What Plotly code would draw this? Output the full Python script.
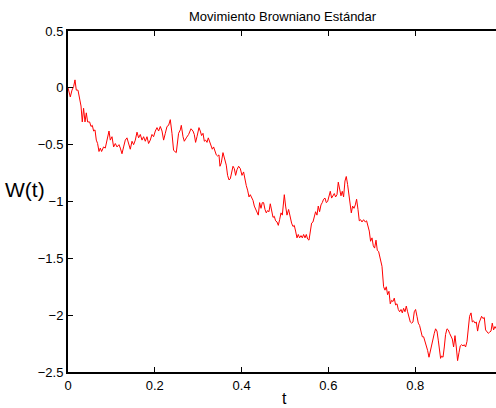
import plotly.graph_objects as go

# time samples and Brownian path values
t = [0.0000, 0.0053, 0.0092, 0.0129, 0.0161, 0.0191, 0.0230, 0.0267, 0.0300, 0.0329,
     0.0359, 0.0392, 0.0422, 0.0452, 0.0498, 0.0530, 0.0560, 0.0590, 0.0622, 0.0652,
     0.0682, 0.0714, 0.0744, 0.0774, 0.0820, 0.0859, 0.0899, 0.0945, 0.0975, 0.1014,
     0.1051, 0.1090, 0.1129, 0.1175, 0.1205, 0.1244, 0.1281, 0.1320, 0.1359, 0.1396,
     0.1435, 0.1475, 0.1512, 0.1551, 0.1590, 0.1627, 0.1666, 0.1705, 0.1742, 0.1781,
     0.1820, 0.1857, 0.1896, 0.1935, 0.1972, 0.2012, 0.2051, 0.2088, 0.2127, 0.2166,
     0.2203, 0.2242, 0.2281, 0.2318, 0.2357,
     0.2396, 0.2433, 0.2495, 0.2548, 0.2588, 0.2611, 0.2650, 0.2680, 0.2726, 0.2779,
     0.2834, 0.2880, 0.2910, 0.2940, 0.2972, 0.3018, 0.3048, 0.3078, 0.3111, 0.3141,
     0.3171, 0.3203, 0.3233, 0.3263, 0.3295, 0.3325, 0.3355, 0.3387, 0.3417, 0.3447,
     0.3479, 0.3502, 0.3532, 0.3571, 0.3608, 0.3647, 0.3677, 0.3710, 0.3740, 0.3770,
     0.3802, 0.3832, 0.3862, 0.3894, 0.3931, 0.3970, 0.4009, 0.4046, 0.4078, 0.4108,
     0.4138, 0.4171, 0.4200, 0.4230, 0.4263, 0.4293, 0.4323, 0.4355, 0.4385, 0.4415,
     0.4447, 0.4477, 0.4507, 0.4539, 0.4569, 0.4599, 0.4631, 0.4661, 0.4691, 0.4724,
     0.4753, 0.4783, 0.4816, 0.4846, 0.4876,
     0.4908, 0.4938, 0.4984, 0.5014, 0.5046, 0.5083, 0.5122, 0.5152, 0.5184, 0.5214,
     0.5244, 0.5276, 0.5306, 0.5336, 0.5369, 0.5399, 0.5429, 0.5461, 0.5491, 0.5521,
     0.5553, 0.5583, 0.5613, 0.5645, 0.5675, 0.5705, 0.5737, 0.5767, 0.5797, 0.5829,
     0.5859, 0.5889, 0.5922, 0.5952, 0.5982, 0.6014, 0.6044, 0.6074, 0.6106, 0.6136,
     0.6166, 0.6198, 0.6228, 0.6258, 0.6290, 0.6320, 0.6350, 0.6382, 0.6412, 0.6442,
     0.6475, 0.6505, 0.6528, 0.6558, 0.6590, 0.6620, 0.6650, 0.6682, 0.6712, 0.6742,
     0.6774, 0.6811, 0.6850, 0.6880, 0.6912, 0.6942, 0.6972, 0.7005, 0.7035, 0.7065,
     0.7097, 0.7127, 0.7157, 0.7189,
     0.7235, 0.7272, 0.7304, 0.7334, 0.7364, 0.7396, 0.7426, 0.7456, 0.7488, 0.7518,
     0.7548, 0.7581, 0.7611, 0.7641, 0.7673, 0.7703, 0.7733, 0.7765, 0.7795, 0.7825,
     0.7857, 0.7887, 0.7917, 0.7949, 0.7979, 0.8009, 0.8041, 0.8071, 0.8101, 0.8134,
     0.8164, 0.8194, 0.8226, 0.8256, 0.8286, 0.8318, 0.8348, 0.8378, 0.8410, 0.8440,
     0.8470, 0.8502, 0.8532, 0.8562, 0.8585, 0.8608, 0.8641, 0.8671, 0.8700, 0.8733,
     0.8763, 0.8793, 0.8825, 0.8855, 0.8885, 0.8917, 0.8947, 0.8977, 0.9009, 0.9039,
     0.9069, 0.9101, 0.9131, 0.9161, 0.9194, 0.9224, 0.9253, 0.9286, 0.9316, 0.9346,
     0.9378, 0.9408, 0.9438, 0.9470, 0.9500, 0.9530, 0.9562, 0.9592, 0.9622, 0.9654,
     0.9684, 0.9714, 0.9747, 0.9776, 0.9806, 0.9839, 0.9869, 0.9900]

W = [0.00, -0.08, -0.02, 0.01, 0.07, -0.02, -0.02, -0.11, -0.16, -0.30,
     -0.18, -0.30, -0.22, -0.30, -0.30, -0.34, -0.33, -0.38, -0.37, -0.46,
     -0.49, -0.56, -0.53, -0.56, -0.52, -0.53, -0.46, -0.38, -0.46, -0.43,
     -0.52, -0.49, -0.52, -0.50, -0.53, -0.58, -0.52, -0.46, -0.44, -0.49,
     -0.54, -0.47, -0.50, -0.46, -0.39, -0.44, -0.41, -0.46, -0.43, -0.47,
     -0.43, -0.49, -0.46, -0.41, -0.43, -0.38, -0.35, -0.38, -0.34, -0.38,
     -0.46, -0.40, -0.34, -0.33, -0.28,
     -0.40, -0.55, -0.57, -0.40, -0.37, -0.33, -0.43, -0.47, -0.44, -0.41,
     -0.36, -0.38, -0.41, -0.48, -0.43, -0.35, -0.38, -0.42, -0.40, -0.47,
     -0.46, -0.48, -0.44, -0.47, -0.50, -0.54, -0.52, -0.57, -0.59, -0.60,
     -0.59, -0.69, -0.66, -0.57, -0.62, -0.68, -0.77, -0.81, -0.80, -0.74,
     -0.69, -0.71, -0.77, -0.72, -0.69, -0.71, -0.77, -0.74, -0.81, -0.86,
     -0.90, -0.96, -0.94, -0.97, -0.99, -1.04, -1.07, -1.09, -1.12, -1.01,
     -1.06, -1.01, -1.01, -1.07, -1.10, -1.08, -1.09, -1.02, -1.07, -1.14,
     -1.13, -1.17, -1.18, -1.21, -1.16,
     -1.10, -1.12, -0.94, -1.04, -1.12, -1.07, -1.15, -1.19, -1.22, -1.21,
     -1.26, -1.32, -1.29, -1.32, -1.30, -1.32, -1.29, -1.32, -1.29, -1.33,
     -1.34, -1.25, -1.19, -1.18, -1.12, -1.09, -1.12, -1.04, -1.09, -1.03,
     -1.01, -0.98, -0.97, -1.01, -1.00, -0.96, -0.91, -0.97, -0.95, -0.93,
     -0.96, -0.94, -0.83, -0.90, -0.95, -0.91, -0.96, -0.82, -0.78, -0.85,
     -0.96, -1.01, -1.10, -1.04, -1.06, -1.03, -0.98, -1.07, -1.17, -1.16,
     -1.18, -1.16, -1.18, -1.17, -1.21, -1.26, -1.35, -1.32, -1.39, -1.41,
     -1.34, -1.43, -1.44, -1.50,
     -1.57, -1.75, -1.78, -1.75, -1.82, -1.79, -1.90, -1.87, -1.88, -1.85,
     -1.91, -1.90, -1.95, -1.97, -1.95, -1.98, -1.94, -1.97, -1.92, -1.97,
     -2.01, -2.06, -2.07, -2.06, -1.97, -1.95, -2.01, -2.07, -2.09, -2.14,
     -2.19, -2.19, -2.23, -2.28, -2.31, -2.37, -2.31, -2.27, -2.20, -2.16,
     -2.12, -2.14, -2.22, -2.33, -2.38, -2.36, -2.37, -2.28, -2.17, -2.12,
     -2.13, -2.16, -2.19, -2.21, -2.28, -2.18, -2.28, -2.40, -2.33, -2.27,
     -2.26, -2.27, -2.26, -2.28, -2.23, -2.14, -2.01, -1.98, -2.06, -2.05,
     -2.07, -2.06, -2.14, -2.07, -2.04, -2.01, -2.03, -2.02, -2.13, -2.15,
     -2.16, -2.15, -2.14, -2.07, -2.13, -2.10, -2.12, -2.11]

x_ticks = [0, 0.2, 0.4, 0.6, 0.8]
x_tick_labels = ["0", "0.2", "0.4", "0.6", "0.8"]
y_ticks = [0.5, 0, -0.5, -1, -1.5, -2, -2.5]
y_tick_labels = ["0.5", "0", "\u22120.5", "\u22121", "\u22121.5", "\u22122", "\u22122.5"]

title_text = "Movimiento Browniano Estándar"
x_label = "t"
y_label = "W(t)"

FONT = "Liberation Sans, Arial, Helvetica, sans-serif"

fig = go.Figure()
fig.add_trace(go.Scatter(x=t, y=W, mode="lines",
                         line=dict(color="#ff0000", width=1),
                         hoverinfo="skip", showlegend=False))

W_PX, H_PX = 496, 408
L, R, T, B = 68, 0, 31, 36
pw = W_PX - L - R
ph = H_PX - T - B

def px_x(p):
    return (p - L) / pw

def px_y(p):
    return (H_PX - B - p) / ph

fig.update_layout(
    width=W_PX, height=H_PX,
    margin=dict(l=L, r=R, t=T, b=B, pad=0),
    paper_bgcolor="white", plot_bgcolor="white",
    font=dict(family=FONT, size=13, color="black"),
    xaxis=dict(range=[0, 0.9862], tickvals=x_ticks, ticktext=x_tick_labels,
               ticks="inside", ticklen=5, tickwidth=1, tickcolor="black",
               showline=True, linewidth=2, linecolor="black", mirror="ticks",
               showgrid=False, zeroline=False, automargin=False,
               tickfont=dict(family=FONT, size=13, color="black")),
    yaxis=dict(range=[-2.5, 0.5], tickvals=y_ticks, ticktext=y_tick_labels,
               ticks="inside", ticklen=5, tickwidth=1, tickcolor="black",
               showline=True, linewidth=2, linecolor="black", mirror=False,
               showgrid=False, zeroline=False, automargin=False,
               tickfont=dict(family=FONT, size=13, color="black")),
    annotations=[
        dict(text=title_text, xref="paper", yref="paper",
             x=px_x(283), y=px_y(16), xanchor="center", yanchor="middle",
             showarrow=False, font=dict(family=FONT, size=13, color="black")),
        dict(text=x_label, xref="paper", yref="paper",
             x=px_x(284), y=px_y(398), xanchor="center", yanchor="middle",
             showarrow=False, font=dict(family=FONT, size=16, color="black")),
        dict(text=y_label, xref="paper", yref="paper",
             x=px_x(25), y=px_y(189), xanchor="center", yanchor="middle",
             showarrow=False, font=dict(family=FONT, size=21, color="black")),
    ],
)

fig.write_html(
    "out.html",
    config={"displayModeBar": False},
    post_script="document.body.style.margin='0';document.body.style.overflow='hidden';",
)
